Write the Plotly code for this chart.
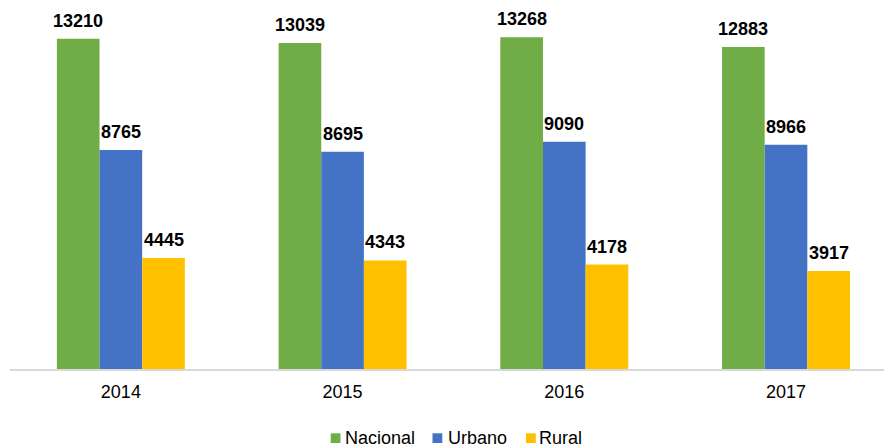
import plotly.graph_objects as go

years = ["2014", "2015", "2016", "2017"]
nacional = [13210, 13039, 13268, 12883]
urbano = [8765, 8695, 9090, 8966]
rural = [4445, 4343, 4178, 3917]

series = [
    ("Nacional", nacional, "#70AD47"),
    ("Urbano", urbano, "#4472C4"),
    ("Rural", rural, "#FFC000"),
]

W, H = 884, 447
ML, MR, MT, MB = 10, 0, 19, 78
PW, PH = W - ML - MR, H - MT - MB


def px_x(p):
    return (p - ML) / PW


def px_y(p):
    return (H - MB - p) / PH


bargap = 0.423
bar_w = (1 - bargap) / len(series)
FONT = "Liberation Sans, Arial"

fig = go.Figure()
annotations = []
shapes = []
legend_sq_x = [330.7, 432.5, 526]
legend_txt_x = [342.5, 445.5, 537.2]
for k, (name, vals, color) in enumerate(series):
    fig.add_trace(go.Bar(
        x=years, y=vals, name=name, marker=dict(color=color, line=dict(width=0)),
        showlegend=False,
    ))
    off = (k - (len(series) - 1) / 2) * bar_w
    for i, v in enumerate(vals):
        annotations.append(dict(
            x=i + off, y=v, xref="x", yref="y", text=f"<b>{v}</b>",
            showarrow=False, yanchor="bottom", yshift=6,
            font=dict(family=FONT, size=18, color="#000000"),
        ))
    # custom legend entry
    shapes.append(dict(
        type="rect", xref="paper", yref="paper",
        x0=px_x(legend_sq_x[k]), x1=px_x(legend_sq_x[k] + 9.8),
        y0=px_y(443), y1=px_y(433.3),
        fillcolor=color, line=dict(width=0), layer="above",
    ))
    annotations.append(dict(
        x=px_x(legend_txt_x[k]), y=px_y(438), xref="paper", yref="paper",
        xanchor="left", yanchor="middle", text=name, showarrow=False,
        font=dict(family=FONT, size=18, color="#000000"),
    ))

fig.update_layout(
    width=W, height=H,
    margin=dict(l=ML, r=MR, t=MT, b=MB, autoexpand=False),
    barmode="group", bargap=bargap, bargroupgap=0,
    plot_bgcolor="white", paper_bgcolor="white",
    font=dict(family=FONT, size=18, color="#000000"),
    showlegend=False,
    xaxis=dict(
        range=[-0.5, 3.442], showgrid=False, showline=True, linecolor="#D9D9D9",
        linewidth=2, ticks="", tickfont=dict(size=18), zeroline=False,
        automargin=False, ticklabelstandoff=5,
    ),
    yaxis=dict(range=[0, 14000], visible=False, showgrid=False, zeroline=False,
               automargin=False),
    annotations=annotations,
    shapes=shapes,
)

fig.write_html(
    "out.html",
    config={"displayModeBar": False},
    post_script="document.body.style.margin='0';document.body.style.overflow='hidden';",
)
